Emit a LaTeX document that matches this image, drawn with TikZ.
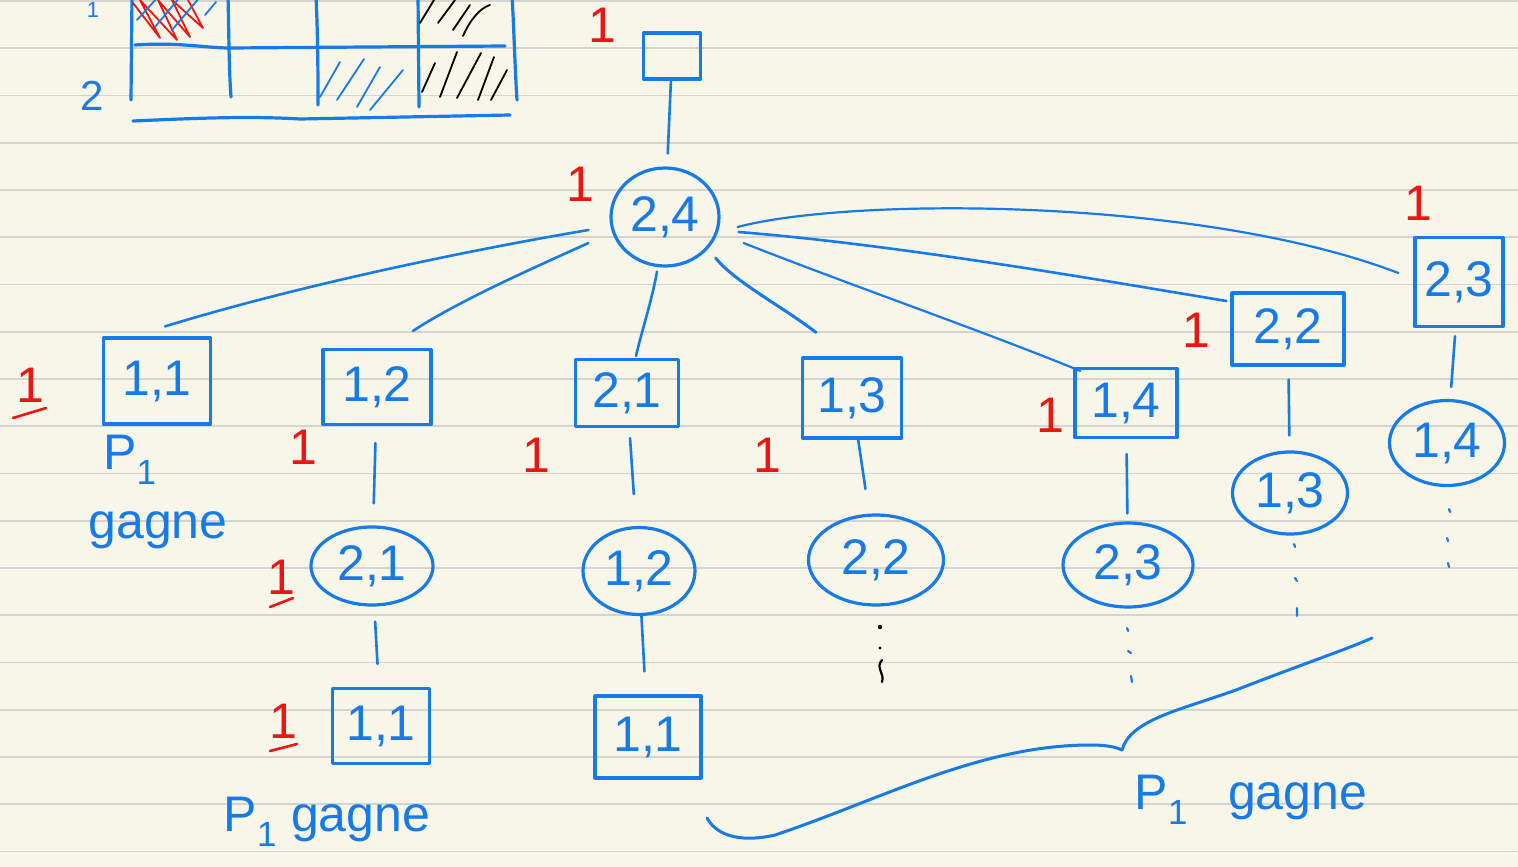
\documentclass[tikz,border=0pt]{standalone}
\usepackage{fontspec}
\setmainfont{Liberation Sans}
\usetikzlibrary{shapes.geometric,calc}
\definecolor{paper}{RGB}{248,246,232}
\definecolor{ruleline}{RGB}{212,212,208}
\definecolor{ink}{RGB}{22,122,232}
\definecolor{redink}{RGB}{238,20,20}
\begin{document}
\begin{tikzpicture}[x=1pt,y=-1pt,
  inkline/.style={draw=ink, line width=3.2pt, line cap=round, line join=round},
  boxnode/.style={inkline, rectangle, inner sep=0pt, text=ink, font=\fontsize{50}{50}\selectfont},
  ovalnode/.style={inkline, ellipse, inner sep=0pt, text=ink, font=\fontsize{50}{50}\selectfont},
  link/.style={draw=ink, line width=2.6pt, line cap=round},
  redlabel/.style={text=redink, font=\fontsize{50}{50}\selectfont, inner sep=0pt},
  bluetext/.style={text=ink, font=\fontsize{50}{50}\selectfont, inner sep=0pt},
  redstroke/.style={draw=redink, line width=2.6pt, line cap=round},
  hatch/.style={line width=1.8pt, line cap=round, line join=round},
  dotmark/.style={line width=2.2pt, line cap=round}]
\useasboundingbox (0,0) rectangle (1518,867);
\clip (0,0) rectangle (1518,867);
\fill[paper] (0,0) rectangle (1518,867);
\foreach \k in {0,...,18} \draw[ruleline, line width=1.8pt] (0,{1+47.25*\k}) -- (1518,{1+47.25*\k});

% ---- top-left grid ----
\draw[inkline] (132,-5) -- (131,100);
\draw[inkline] (228,-5) .. controls (229,40) and (229,70) .. (231,97);
\draw[inkline] (316,-5) .. controls (318,40) and (318,80) .. (318,105);
\draw[inkline] (418,-5) -- (419,107);
\draw[inkline] (512,-5) .. controls (514,30) and (515,70) .. (517,100);
\draw[inkline] (135,45) .. controls (180,42) and (205,48) .. (230,48) -- (505,46);
\draw[inkline] (133,121) .. controls (200,118) and (250,116) .. (300,119) -- (510,115);
\draw[redink, hatch] (133,3) -- (160,38) -- (140,0) -- (177,40) -- (158,0) -- (190,37) -- (172,0) -- (203,28) -- (188,0);
\draw[ink, hatch] (137,20) -- (158,-3) (155,27) -- (180,-3) (172,30) -- (200,-3) (205,15) -- (216,2);
\draw[black, hatch] (420,23) -- (434,0) (438,23) -- (455,0) (453,30) -- (470,5) (463,36) .. controls (470,20) and (480,8) .. (490,5);
\draw[black, hatch] (422,92) -- (435,63) (440,97) -- (457,52) (457,98) -- (481,53) (478,100) -- (494,57) (491,100) -- (507,70);
\draw[ink, hatch] (320,97) -- (340,62) (337,100) -- (364,59) (357,107) -- (380,67) (370,110) -- (403,70);
\node[bluetext, font=\fontsize{42}{42}\selectfont] (rowtwo) at (92,96) {2};
\node[bluetext, font=\fontsize{22}{22}\selectfont] (rowone) at (93,10) {1};

% ---- tree nodes ----
\node[boxnode, minimum width=57, minimum height=46] (root) at (672,56) {};
\node[ovalnode, minimum width=108, minimum height=98] (c24) at (665,217) {2,4};

\node[boxnode, minimum width=107, minimum height=86] (b11) at (157,381) {1,1};
\node[boxnode, minimum width=108, minimum height=75] (b12) at (377,387) {1,2};
\node[boxnode, minimum width=103, minimum height=67] (b21) at (627,393) {2,1};
\node[boxnode, minimum width=99, minimum height=80] (b13) at (852,398) {1,3};
\node[boxnode, minimum width=102, minimum height=69] (b14) at (1126,403) {1,4};
\node[boxnode, minimum width=112, minimum height=72] (b22) at (1288,329) {2,2};
\node[boxnode, minimum width=88, minimum height=89] (b23) at (1459,282) {2,3};

\node[ovalnode, minimum width=122, minimum height=78] (c21) at (372,566) {2,1};
\node[ovalnode, minimum width=112, minimum height=87] (c12) at (639,571) {1,2};
\node[ovalnode, minimum width=135, minimum height=90] (c22) at (876,560) {2,2};
\node[ovalnode, minimum width=130, minimum height=84] (c23) at (1128,565) {2,3};
\node[ovalnode, minimum width=115, minimum height=82] (c13) at (1290,493) {1,3};
\node[ovalnode, minimum width=115, minimum height=85] (c14) at (1447,443) {1,4};

\node[boxnode, minimum width=97, minimum height=75] (bb1) at (381,726) {1,1};
\node[boxnode, minimum width=106, minimum height=82] (bb2) at (648,737) {1,1};

% ---- connectors ----
\draw[link, shorten >=13pt] (root) -- (c24);
\draw[link] ($(c24.west)+(-21,13)$) .. controls (470,250) and (300,285) .. ($(b11.north)+(8,-10)$);
\draw[link] ($(c24.west)+(-21,26)$) .. controls (540,265) and (460,300) .. ($(b12.north)+(36,-17)$);
\draw[link] ($(c24.south)+(-8,4)$) .. controls (652,300) and (642,330) .. ($(b21.north)+(9,-2)$);
\draw[link, line width=3pt] ($(c24.east)+(-5,41)$) .. controls (735,282) and (780,305) .. ($(b13.north)+(-36,-24)$);
\draw[link, line width=2.2pt] ($(c24.east)+(23,26)$) .. controls (850,285) and (980,330) .. ($(b14.north west)+(7,4)$);
\draw[link] ($(c24.east)+(18,15)$) .. controls (900,245) and (1100,280) .. ($(b22.west)+(-4,-28)$);
\draw[link, line width=2.2pt] ($(c24.east)+(17,10)$) .. controls (850,197) and (1200,197) .. ($(b23.west)+(-15,-9)$);

\draw[link, shorten <=17pt, shorten >=22pt] (b12) -- (c21);
\draw[link, shorten <=15pt, shorten >=23pt] (c21) -- (bb1);
\draw[link, shorten <=10pt, shorten >=32pt] (b21) -- (c12);
\draw[link, shorten >=23pt] (c12) -- (bb2);
\draw[link, shorten >=25pt] (b13) -- (c22);
\draw[link, shorten <=15pt, shorten >=8pt] (b14) -- (c23);
\draw[link, shorten <=13pt, shorten >=15pt] (b22) -- (c13);
\draw[link, shorten <=8pt, shorten >=12pt] (b23) -- (c14);

% ---- continuation dots ----
\fill[black] (880,627) circle (2.2) (880,648) circle (1.6);
\draw[black, dotmark] (882,660) .. controls (875,668) and (885,673) .. (882,682);
\draw[ink, dotmark] (1127,628) -- (1128,631) (1128,651) -- (1131,653) (1131,676) -- (1132,682);
\draw[ink, dotmark] (1294,544) -- (1295,547) (1295,578) -- (1297,581) (1297,608) -- (1297,616);
\draw[ink, dotmark] (1449,509) -- (1450,512) (1447,538) -- (1448,541) (1448,563) -- (1449,567);

% ---- brace ----
\draw[inkline, line width=3pt] (707,818) .. controls (718,838) and (745,842) .. (775,835)
  .. controls (880,800) and (980,745) .. (1090,745)
  .. controls (1110,745) and (1118,748) .. (1122,750)
  .. controls (1130,720) and (1180,710) .. (1236,690)
  .. controls (1300,665) and (1345,650) .. (1372,638);

% ---- red labels ----
\node[redlabel] (rroot) at (602,25) {1};
\node[redlabel] (rc24) at (580,184) {1};
\node[redlabel] (rb11) at (30,385) {1};
\draw[redstroke] (13,418) -- (46,408);
\node[redlabel] (rb12) at (303,447) {1};
\node[redlabel] (rb21) at (536,455) {1};
\node[redlabel] (rb13) at (767,455) {1};
\node[redlabel] (rb14) at (1050,415) {1};
\node[redlabel] (rb22) at (1196,330) {1};
\node[redlabel] (rb23) at (1418,203) {1};
\node[redlabel] (rc21) at (281,577) {1};
\draw[redstroke] (270,607) -- (293,598);
\node[redlabel] (rbb1) at (283,721) {1};
\draw[redstroke] (270,751) -- (297,744);

% ---- blue texts ----
\node[bluetext] (pone) at (130,460) {P\textsubscript{1}};
\node[bluetext] (gagneone) at (158,530) {gagne};
\node[bluetext] (gagnetwo) at (327,822) {P\textsubscript{1}\ gagne};
\node[bluetext] (gagnethree) at (1251,800) {P\textsubscript{1}\hspace{40pt}gagne};
\end{tikzpicture}
\end{document}
